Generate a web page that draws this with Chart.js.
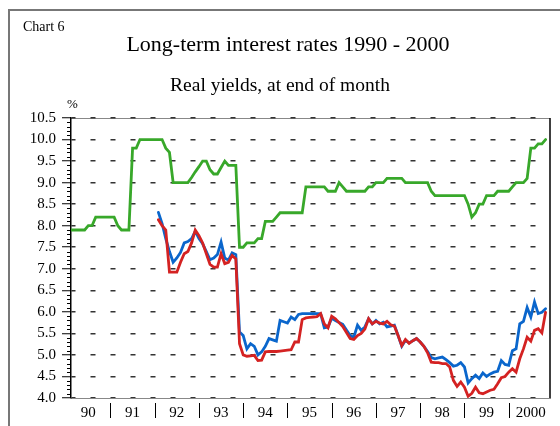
<!DOCTYPE html>
<html>
<head>
<meta charset="utf-8">
<script src="https://cdn.jsdelivr.net/npm/chart.js@4"></script>
<style>
  html, body { margin: 0; padding: 0; background: #fff; }
  canvas { display: block; }
</style>
</head>
<body>
<canvas id="rates-chart" width="560" height="426"></canvas>
<script>
// months counted from Jan 1990 (1) to Oct 2000 (130)
const yearLabels = ['90', '91', '92', '93', '94', '95', '96', '97', '98', '99', '2000'];
const yTicks = [4.0, 4.5, 5.0, 5.5, 6.0, 6.5, 7.0, 7.5, 8.0, 8.5, 9.0, 9.5, 10.0, 10.5];

const greenVals = [
  7.9, 7.9, 7.9, 7.9, 7.9, 8.0, 8.0, 8.2, 8.2, 8.2, 8.2, 8.2,
  8.2, 8.0, 7.9, 7.9, 7.9, 9.8, 9.8, 10.0, 10.0, 10.0, 10.0, 10.0,
  10.0, 10.0, 9.8, 9.7, 9.0, 9.0, 9.0, 9.0, 9.0, 9.12, 9.25, 9.37,
  9.5, 9.5, 9.3, 9.2, 9.2, 9.35, 9.5, 9.4, 9.4, 9.4, 7.5, 7.5,
  7.6, 7.6, 7.6, 7.7, 7.7, 8.1, 8.1, 8.1, 8.2, 8.3, 8.3, 8.3,
  8.3, 8.3, 8.3, 8.3, 8.9, 8.9, 8.9, 8.9, 8.9, 8.9, 8.8, 8.8,
  8.8, 9.0, 8.9, 8.8, 8.8, 8.8, 8.8, 8.8, 8.8, 8.9, 8.9, 9.0,
  9.0, 9.0, 9.1, 9.1, 9.1, 9.1, 9.1, 9.0, 9.0, 9.0, 9.0, 9.0,
  9.0, 9.0, 8.8, 8.7, 8.7, 8.7, 8.7, 8.7, 8.7, 8.7, 8.7, 8.7,
  8.5, 8.2, 8.3, 8.5, 8.5, 8.7, 8.7, 8.7, 8.8, 8.8, 8.8, 8.8,
  8.9, 9.0, 9.0, 9.0, 9.1, 9.8, 9.8, 9.9, 9.9, 10.0
];

const blueVals = [
  null, null, null, null, null, null, null, null, null, null, null, null,
  null, null, null, null, null, null, null, null, null, null, null, null,
  8.31, 8.05, 7.7, 7.4, 7.15, 7.25, 7.38, 7.6, 7.63, 7.7, 7.87, 7.7,
  7.58, 7.4, 7.21, 7.25, 7.33, 7.62, 7.25, 7.2, 7.37, 7.33, 5.53, 5.45,
  5.14, 5.26, 5.2, 5.0, 5.07, 5.2, 5.38, 5.35, 5.32, 5.8, 5.77, 5.74,
  5.88, 5.82, 5.94, 5.96, 5.96, 5.96, 5.96, 5.96, 5.96, 5.63, 5.65, 5.85,
  5.8, 5.75, 5.71, 5.58, 5.45, 5.41, 5.69, 5.57, 5.65, 5.84, 5.72, 5.8,
  5.72, 5.76, 5.65, 5.67, 5.69, 5.45, 5.2, 5.34, 5.28, 5.33, 5.38, 5.3,
  5.2, 5.08, 4.94, 4.91, 4.93, 4.95, 4.89, 4.82, 4.74, 4.76, 4.82, 4.72,
  4.35, 4.45, 4.53, 4.45, 4.58, 4.5, 4.56, 4.6, 4.62, 4.87, 4.78, 4.76,
  5.1, 5.14, 5.72, 5.78, 6.1, 5.88, 6.23, 5.96, 5.99, 6.07
];

const redVals = [
  null, null, null, null, null, null, null, null, null, null, null, null,
  null, null, null, null, null, null, null, null, null, null, null, null,
  8.14, 8.0, 7.9, 6.92, 6.92, 6.92, 7.15, 7.35, 7.4, 7.6, 7.9, 7.77,
  7.6, 7.35, 7.1, 7.04, 7.04, 7.35, 7.12, 7.15, 7.31, 7.23, 5.26, 5.0,
  4.97, 4.98, 4.99, 4.87, 4.88, 5.07, 5.08, 5.08, 5.08, 5.09, 5.1, 5.11,
  5.12, 5.3, 5.3, 5.82, 5.86, 5.87, 5.88, 5.89, 5.96, 5.72, 5.63, 5.9,
  5.84, 5.75, 5.66, 5.52, 5.38, 5.36, 5.45, 5.5, 5.6, 5.84, 5.72, 5.78,
  5.74, 5.72, 5.78, 5.7, 5.67, 5.45, 5.22, 5.36, 5.27, 5.33, 5.38, 5.3,
  5.2, 5.05, 4.83, 4.82, 4.82, 4.8, 4.8, 4.72, 4.41, 4.27, 4.37, 4.25,
  4.04, 4.11, 4.25, 4.12, 4.1, 4.14, 4.18, 4.2, 4.33, 4.47, 4.5, 4.6,
  4.68, 4.6, 4.91, 5.14, 5.41, 5.32, 5.57, 5.61, 5.51, 5.99
];

const toPoints = vals => vals.map((v, i) => ({ x: i + 1, y: v }));
const serif = 'Liberation Serif, Times New Roman, serif';

// frame, titles, year separators and minor ticks
const decor = {
  id: 'decor',
  beforeDraw(chart) {
    const { ctx, chartArea: a } = chart;
    ctx.save();
    ctx.strokeStyle = '#777';
    ctx.lineWidth = 2;
    ctx.beginPath();
    ctx.moveTo(9, 426);
    ctx.lineTo(9, 10);
    ctx.lineTo(560, 10);
    ctx.stroke();

    ctx.strokeStyle = '#888';
    ctx.lineWidth = 1;
    ctx.beginPath();
    ctx.moveTo(a.left, a.top + 0.5);
    ctx.lineTo(a.right, a.top + 0.5);
    ctx.stroke();
    ctx.restore();
  },
  afterDraw(chart) {
    const { ctx, chartArea: a, scales } = chart;
    const x = scales.x, y = scales.y;
    ctx.save();
    ctx.fillStyle = '#000';
    ctx.textBaseline = 'alphabetic';
    ctx.font = '14px ' + serif;
    ctx.textAlign = 'left';
    ctx.fillText('Chart 6', 23, 31);
    ctx.font = '22px ' + serif;
    ctx.textAlign = 'center';
    ctx.fillText('Long-term interest rates 1990 - 2000', 288, 51);
    ctx.font = '19.5px ' + serif;
    ctx.fillText('Real yields, at end of month', 280, 91);
    ctx.font = '13px ' + serif;
    ctx.textAlign = 'left';
    ctx.fillText('%', 67, 108);

    ctx.strokeStyle = '#000';
    ctx.lineWidth = 1.5;
    ctx.beginPath();
    ctx.moveTo(a.right, a.top);
    ctx.lineTo(a.right, a.bottom);
    ctx.stroke();

    ctx.lineWidth = 1;
    ctx.beginPath();
    for (let k = 1; k < yearLabels.length; k++) {
      const px = Math.round(x.getPixelForValue(12 * k)) + 0.5;
      ctx.moveTo(px, a.bottom + 5);
      ctx.lineTo(px, a.bottom + 20);
    }
    for (let t = 40; t <= 105; t++) {
      if (t % 5 === 0) continue;
      const py = Math.round(y.getPixelForValue(t / 10)) + 0.5;
      ctx.moveTo(a.left - 4, py);
      ctx.lineTo(a.left, py);
    }
    ctx.stroke();
    ctx.restore();
  }
};

new Chart(document.getElementById('rates-chart'), {
  type: 'line',
  data: {
    datasets: [
      { label: 'red', data: toPoints(redVals), borderColor: '#d42222', borderWidth: 2.8 },
      { label: 'blue', data: toPoints(blueVals), borderColor: '#0a66cc', borderWidth: 2.8 },
      { label: 'green', data: toPoints(greenVals), borderColor: '#38a82a', borderWidth: 2.8 },
    ],
  },
  options: {
    responsive: false,
    animation: false,
    spanGaps: false,
    elements: { point: { radius: 0 }, line: { tension: 0, borderCapStyle: 'round' } },
    layout: { padding: { top: 118, right: 10, bottom: 0, left: 0 } },
    plugins: { legend: { display: false }, tooltip: { enabled: false } },
    scales: {
      x: {
        type: 'linear',
        min: 1.3,
        max: 131.2,
        afterBuildTicks: axis => {
          axis.ticks = yearLabels.map((_, i) => ({ value: 12 * i + 6 }));
        },
        afterFit: axis => { axis.height = 28; },
        grid: { display: false, drawTicks: false },
        border: { display: true, color: '#888', width: 1 },
        ticks: {
          autoSkip: false,
          maxRotation: 0,
          padding: 6,
          color: '#000',
          font: { family: serif, size: 15 },
          callback: v => yearLabels[Math.round((v - 6) / 12)],
        },
      },
      y: {
        min: 4,
        max: 10.5,
        afterBuildTicks: axis => {
          axis.ticks = yTicks.map(v => ({ value: v }));
        },
        afterFit: axis => { axis.width = 71; },
        grid: { color: '#333', lineWidth: 1.5, tickColor: '#000', tickWidth: 1, tickLength: 9 },
        border: { display: true, color: '#000', width: 1.5, dash: [5, 15], dashOffset: 1 },
        ticks: {
          padding: 6,
          color: '#000',
          font: { family: serif, size: 15 },
          callback: v => v.toFixed(1),
        },
      },
    },
  },
  plugins: [decor],
});
</script>
</body>
</html>
